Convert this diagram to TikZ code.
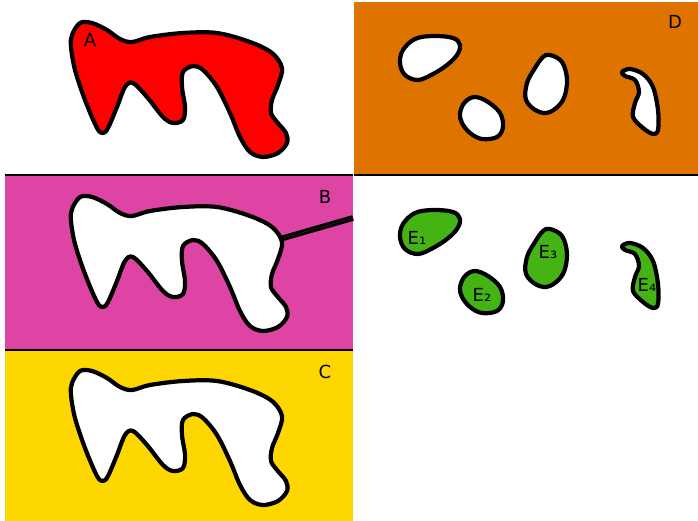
\documentclass[tikz,border=0pt]{standalone}
\usepackage{fontspec}
\setmainfont{DejaVu Sans}
\usepackage{tikz}
\usetikzlibrary{positioning}

\definecolor{blobred}{RGB}{255,0,0}
\definecolor{panelpink}{RGB}{221,68,164}
\definecolor{panelyellow}{RGB}{255,215,0}
\definecolor{panelorange}{RGB}{222,115,0}
\definecolor{blobgreen}{RGB}{68,180,20}

\begin{document}
\begin{tikzpicture}[
    x=1pt, y=-1pt,
    blob/.style={line width=4.2pt, line join=round},
    sep/.style={line width=1.5pt},
    lbl/.style={font=\fontsize{18}{20}\selectfont, inner sep=0pt},
    rod/.style={line width=2.7pt, double=black!80, double distance=0.4pt},
    fish/.pic={\path[blob, pic actions] plot[smooth cycle, tension=0.55] coordinates {
        (72,35) (80,23) (92,23) (107,30) (120,39) (132,42) (150,37) (183,33)
        (217,33) (250,42) (272,53) (282,68) (278,85) (272,100) (271,113)
        (277,122) (286,133) (287,143) (278,153) (263,157) (250,152) (240,137)
        (230,113) (217,87) (203,70) (193,66) (183,72) (182,87) (185,107)
        (183,120) (173,123) (163,117) (147,97) (133,83) (125,87) (117,107)
        (108,128) (103,133) (97,128) (85,100) (75,70) (71,47)};},
    holeA/.pic={\path[blob, pic actions] plot[smooth cycle, tension=0.6] coordinates {
        (400,63) (403,50) (415,39) (433,36) (453,38) (460,45) (457,55)
        (447,65) (433,74) (418,80) (405,75)};},
    holeB/.pic={\path[blob, pic actions] plot[smooth cycle, tension=0.6] coordinates {
        (460,113) (465,102) (475,97) (488,102) (500,113) (503,127) (497,137)
        (482,139) (470,133) (462,123)};},
    holeC/.pic={\path[blob, pic actions] plot[smooth cycle, tension=0.6] coordinates {
        (550,55) (562,62) (567,80) (563,100) (550,112) (537,111) (526,100)
        (527,83) (535,68) (543,57)};},
    holeD/.pic={\path[blob, pic actions] plot[smooth cycle, tension=0.55] coordinates {
        (622,72) (630,69) (643,74) (653,87) (658,110) (658,130) (653,134)
        (643,128) (633,117) (635,103) (639,92) (635,80) (625,76)};},
]
\useasboundingbox (0,0) rectangle (698,521);

% Panels
\fill[panelpink] (5,175) rectangle (353,350);
\fill[panelyellow] (5,350) rectangle (353,521);
\fill[panelorange] (354,2) rectangle (698,175);
\draw[sep] (5,175) -- (353,175);
\draw[sep] (354,175) -- (698,175);
\draw[sep] (5,350) -- (353,350);

% Left column
\pic[draw, fill=blobred] at (0,0) {fish};
\coordinate (rodin) at (280,239);
\coordinate (rodout) at (353,218);
\draw[rod] (rodin) -- (rodout);
\pic[draw, fill=white] at (0,174) {fish};
\pic[draw, fill=white] at (0,348) {fish};

\node[lbl] (labA) at (90,40) {A};
\node[lbl] (labB) at (325,197) {B};
\node[lbl] (labC) at (325,372) {C};

% Right column
\foreach \h in {holeA,holeB,holeC,holeD} {
    \pic[draw, fill=white] at (0,0) {\h};
    \pic[draw, fill=blobgreen] at (0,174) {\h};
}
\node[lbl] (labD) at (675,22) {D};
\node[lbl] (labE1) at (417,238) {E₁};
\node[lbl] (labE2) at (482,295) {E₂};
\node[lbl] (labE3) at (548,252) {E₃};
\node[lbl] (labE4) at (647,285) {E₄};
\end{tikzpicture}
\end{document}
